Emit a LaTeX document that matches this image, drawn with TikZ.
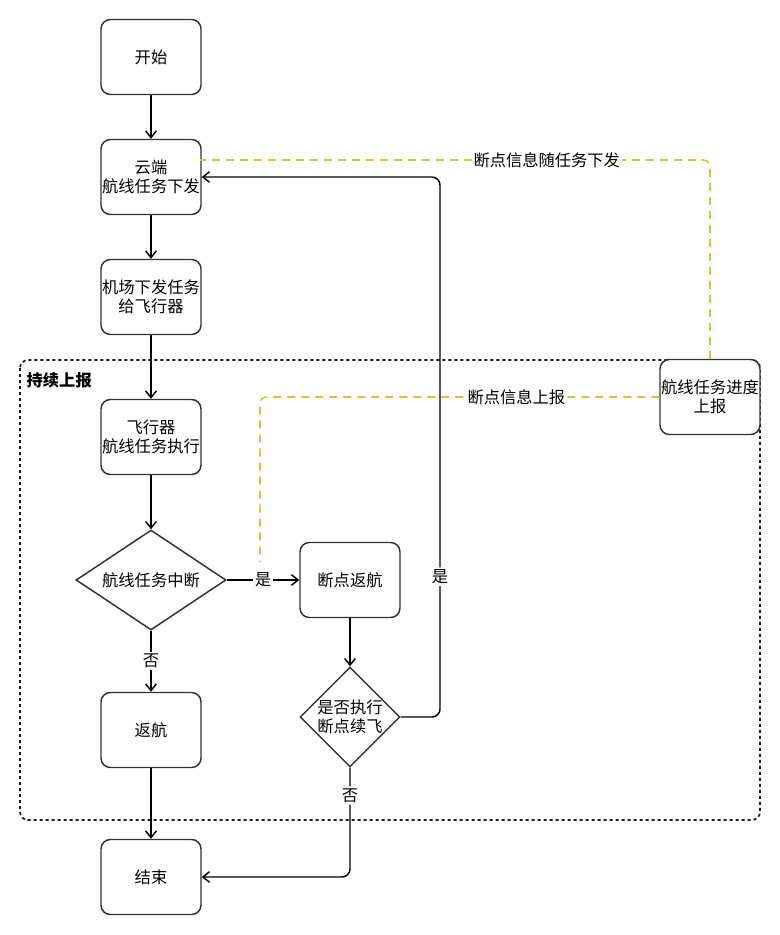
\documentclass[tikz,border=0pt]{standalone}
\usepackage{fontspec}
\setmainfont{Noto Sans CJK SC}
\usetikzlibrary{shapes.geometric,arrows.meta}

\definecolor{boxline}{RGB}{51,51,51}
\definecolor{infoline}{RGB}{232,188,58}

\tikzset{
  stepbox/.style={draw=boxline,line width=1.1pt,rounded corners=7pt,fill=white,
    minimum width=75pt,minimum height=56.25pt,align=center,inner sep=0pt},
  decide/.style={draw=boxline,line width=1.1pt,diamond,fill=white,align=center,
    inner sep=0pt,aspect=1},
  flow/.style={->,line width=1.1pt,black},
  info/.style={line width=1.2pt,infoline,dash pattern=on 6pt off 4.5pt,rounded corners=5pt},
  lbl/.style={fill=white,text=black,inner sep=1.5pt}
}

\begin{document}
\begin{tikzpicture}[x=0.75pt,y=-0.75pt,>={Straight Barb[length=5pt,width=8pt]},
    font=\fontsize{12.2}{14.5}\selectfont]
  \useasboundingbox (0,0) rectangle (780,935);

  % container for the reporting loop
  \draw[black!90,line width=1.3pt,dash pattern=on 2.4pt off 2.1pt,rounded corners=6pt]
    (20,360) rectangle (760,820);
  \node[anchor=west,font=\fontsize{12.2}{14.5}\selectfont\bfseries] (group) at (22,380) {持续上报};

  % main column
  \node[stepbox] (start) at (151,57) {开始};
  \node[stepbox] (cloud) at (151,177) {云端\\航线任务下发};
  \node[stepbox] (dock) at (151,297) {机场下发任务\\给飞行器};
  \node[stepbox] (uav) at (151,437) {飞行器\\航线任务执行};
  \node[decide,aspect=1.5,minimum width=112.5pt,minimum height=75pt] (intr) at (151,580) {航线任务中断};
  \node[stepbox] (rth) at (151,730) {返航};
  \node[stepbox] (finish) at (151,877) {结束};

  % breakpoint branch
  \node[stepbox] (bprth) at (350,580) {断点返航};
  \node[decide,minimum width=75pt,minimum height=75pt] (resume) at (350,717) {是否执行\\断点续飞};
  \node[stepbox] (report) at (710,397) {航线任务进度\\上报};

  \coordinate (loop) at (440,177);
  \coordinate (cloudin) at (200,160);
  \coordinate (hand) at (260,562);

  \draw[flow] (start) -- (cloud);
  \draw[flow] (cloud) -- (dock);
  \draw[flow] (dock) -- (uav);
  \draw[flow] (uav) -- (intr);
  \draw[flow] (intr) -- node[lbl] {是} (bprth);
  \draw[flow] (intr) -- node[lbl] {否} (rth);
  \draw[flow] (rth) -- (finish);
  \draw[flow] (bprth) -- (resume);
  \draw[flow,rounded corners=6pt] (resume.east) -| node[lbl,pos=0.63] {是} (loop) -- (cloud.east);
  \draw[flow,rounded corners=6pt] (resume.south) |- node[lbl,pos=0.127] {否} (finish.east);

  % breakpoint info
  \draw[info] (report.north) |- node[lbl,pos=0.66] {断点信息随任务下发} (cloudin);
  \draw[info] (report.west) -| node[lbl,pos=0.179] {断点信息上报} (hand);
\end{tikzpicture}
\end{document}
